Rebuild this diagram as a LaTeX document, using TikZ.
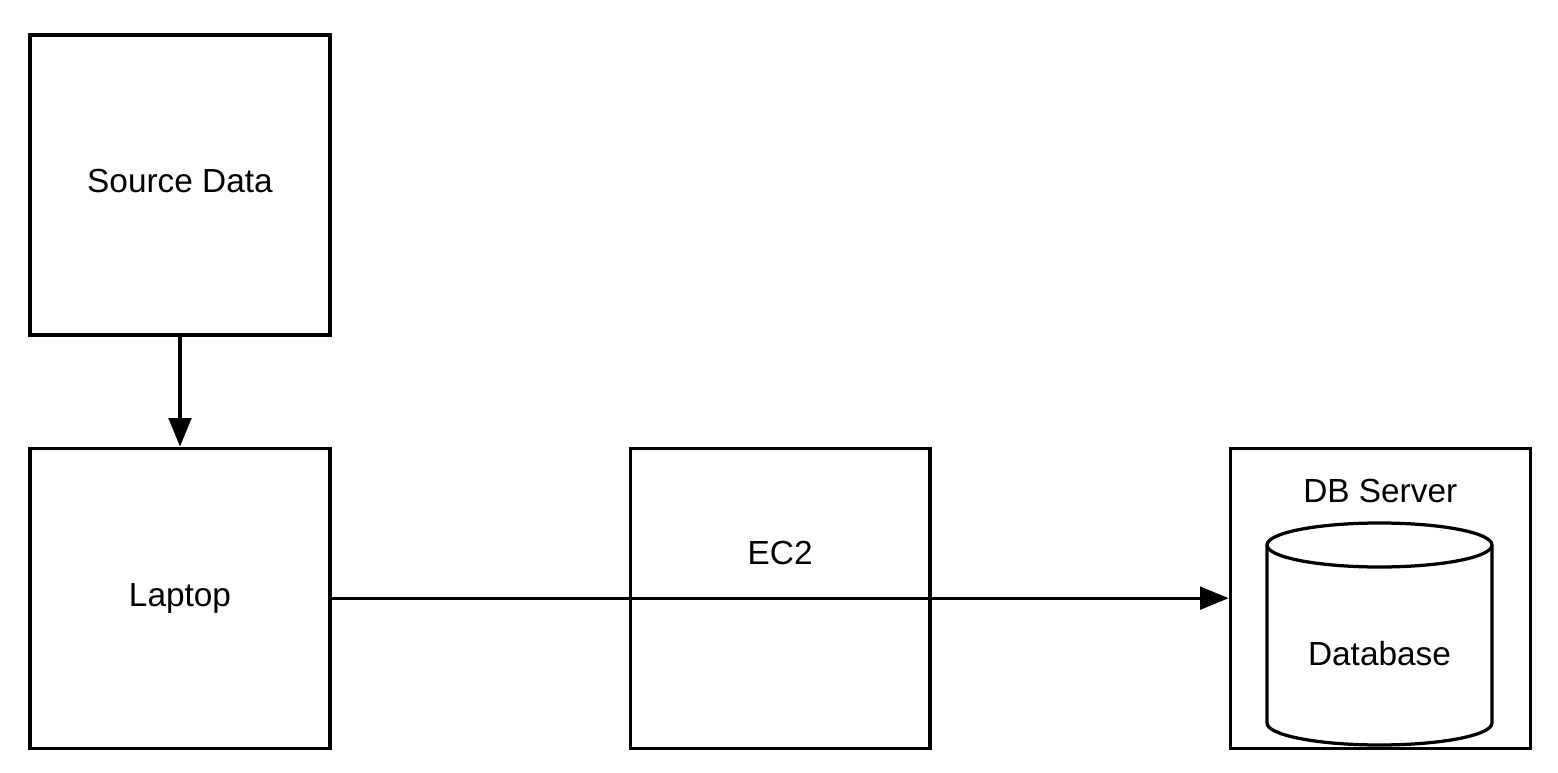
\documentclass[tikz,border=0pt]{standalone}
\usepackage{fontspec}
\setmainfont{Liberation Sans}
\usetikzlibrary{positioning,arrows.meta}
\begin{document}
\begin{tikzpicture}[x=0.02cm, y=-0.02cm,
  every node/.style = {font=\fontsize{19}{23}\selectfont},
  box/.style = {draw, minimum size=6cm, line width=0.065cm},
  link/.style = {line width=0.065cm, -{Triangle[length=0.57cm, width=0.45cm]}},
  drum/.style = {line width=0.065cm}]
\useasboundingbox (0,0) rectangle (1558,773);

\node[box, text depth=0.15cm] (source) at (180,185) {Source Data};
\node[box] (laptop) [below=2.2cm of source] {Laptop};
\node[box] (ec2) [right=5.94cm of laptop] {};
\node[box] (server) [right=5.94cm of ec2] {};

\node (ec2label) at ([yshift=0.9cm]ec2.center) {EC2};
\node (serverlabel) at ([yshift=2.14cm]server.center) {DB Server};

% database drum
\draw[drum] (1267,545) -- (1267,723)
  arc[start angle=180, end angle=0, x radius=112.5, y radius=22] -- (1492,545);
\draw[drum] (1379.5,545) ellipse [x radius=112.5, y radius=22];
\node (db) at (1379.5,654) {Database};

\draw[link] (source) -- (laptop);
\draw[link] (laptop) -- (server);

\end{tikzpicture}
\end{document}
